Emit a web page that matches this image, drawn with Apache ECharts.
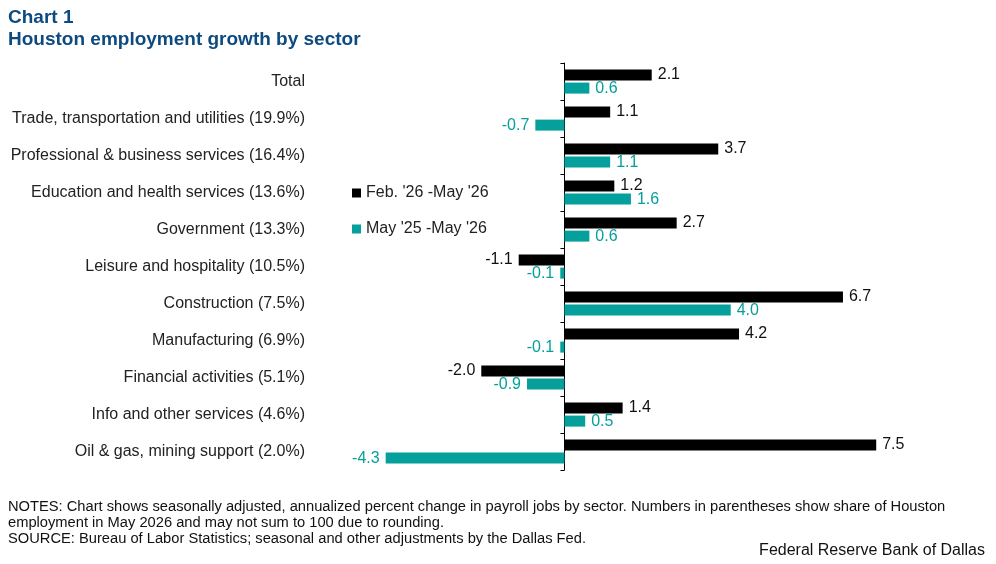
<!DOCTYPE html>
<html>
<head>
<meta charset="utf-8">
<script src="https://cdn.jsdelivr.net/npm/echarts@6/dist/echarts.min.js"></script>
<style>
html, body { margin: 0; padding: 0; background: #fff; }
#chart { width: 996px; height: 564px; }
</style>
</head>
<body>
<div id="chart"></div>
<script>
const sectors = ['Total', 'Trade, transportation and utilities (19.9%)', 'Professional & business services (16.4%)',
  'Education and health services (13.6%)', 'Government (13.3%)', 'Leisure and hospitality (10.5%)',
  'Construction (7.5%)', 'Manufacturing (6.9%)', 'Financial activities (5.1%)',
  'Info and other services (4.6%)', 'Oil & gas, mining support (2.0%)']
const threeMonth = [2.1, 1.1, 3.7, 1.2, 2.7, -1.1, 6.7, 4.2, -2.0, 1.4, 7.5]
const twelveMonth = [0.6, -0.7, 1.1, 1.6, 0.6, -0.1, 4.0, -0.1, -0.9, 0.5, -4.3]
const seriesNames = ["Feb. '26 -May '26", "May '25 -May '26"]

const font = 'Liberation Sans, Arial, sans-serif'
const teal = '#05a09c'

function withLabels (values, color) {
  return values.map(v => ({
    value: v,
    label: {
      show: true,
      position: v < 0 ? 'left' : 'right',
      distance: 6,
      color: color,
      fontSize: 16,
      fontFamily: font,
      formatter: p => p.value.toFixed(1)
    }
  }))
}

const chart = echarts.init(document.getElementById('chart'))
chart.setOption({
  animation: false,
  backgroundColor: '#fff',
  title: [
    {
      text: 'Chart 1\nHouston employment growth by sector',
      left: 3,
      top: 2,
      textStyle: { color: '#0d4a80', fontSize: 19, fontWeight: 'bold', fontFamily: font, lineHeight: 22 }
    },
    {
      text: 'NOTES: Chart shows seasonally adjusted, annualized percent change in payroll jobs by sector. Numbers in parentheses show share of Houston\nemployment in May 2026 and may not sum to 100 due to rounding.\nSOURCE: Bureau of Labor Statistics; seasonal and other adjustments by the Dallas Fed.',
      left: 3,
      top: 494,
      textStyle: { color: '#111', fontSize: 14.7, fontWeight: 'normal', fontFamily: font, lineHeight: 16 }
    },
    {
      text: 'Federal Reserve Bank of Dallas',
      right: 6,
      top: 538,
      textStyle: { color: '#111', fontSize: 16, fontWeight: 'normal', fontFamily: font }
    }
  ],
  legend: {
    orient: 'vertical',
    left: 347,
    top: 180,
    itemGap: 20,
    itemWidth: 9,
    itemHeight: 9,
    icon: 'rect',
    textStyle: { color: '#222', fontSize: 16, fontFamily: font },
    data: seriesNames
  },
  grid: { left: 315, top: 63, width: 582, height: 407 },
  xAxis: {
    type: 'value',
    min: -6,
    max: 8,
    show: false
  },
  yAxis: [
    {
      type: 'category',
      data: sectors,
      inverse: true,
      axisLine: { show: false, onZero: false },
      axisTick: { show: false },
      axisLabel: { color: '#222', fontSize: 16, fontFamily: font, margin: 10 }
    },
    {
      type: 'category',
      data: sectors,
      inverse: true,
      position: 'left',
      axisLine: { show: true, onZero: true, lineStyle: { color: '#000', width: 1 } },
      axisTick: { show: true, length: 4, lineStyle: { color: '#000' } },
      axisLabel: { show: false }
    }
  ],
  series: [
    {
      name: seriesNames[0],
      type: 'bar',
      yAxisIndex: 0,
      barWidth: 11,
      barGap: '20%',
      itemStyle: { color: '#000' },
      data: withLabels(threeMonth, '#111')
    },
    {
      name: seriesNames[1],
      type: 'bar',
      yAxisIndex: 0,
      barWidth: 11,
      barGap: '20%',
      itemStyle: { color: teal },
      data: withLabels(twelveMonth, teal)
    }
  ]
})
</script>
</body>
</html>
